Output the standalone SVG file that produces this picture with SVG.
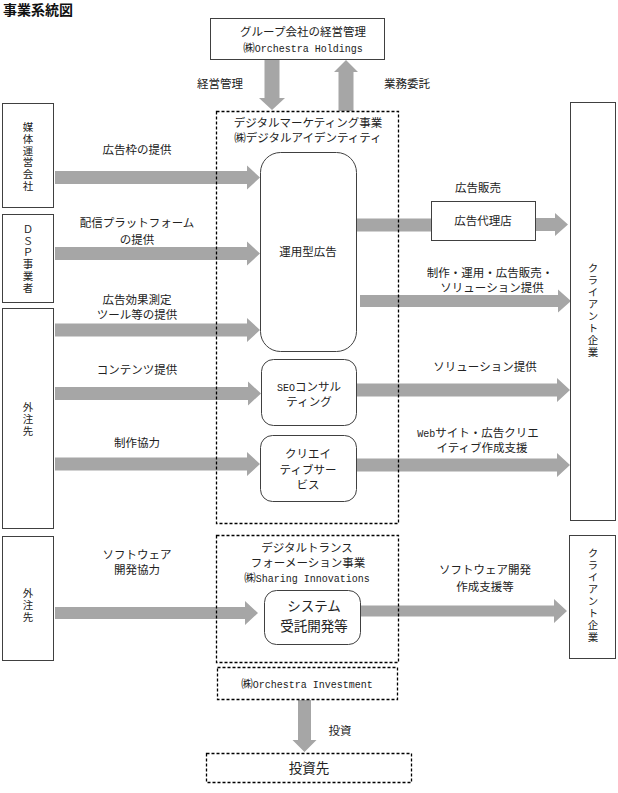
<svg xmlns="http://www.w3.org/2000/svg" width="618" height="793" viewBox="0 0 618 793">
<style>
.box{fill:#fff;stroke:#404040;stroke-width:1}
.dash{fill:none;stroke:#000;stroke-width:1.3;stroke-dasharray:3 2}
.arr{fill:#a6a6a6}
.t{font-family:"Noto Sans CJK JP","Noto Sans CJK SC",sans-serif;font-size:11.5px;fill:#222;text-anchor:middle}
.lat{font-family:"Liberation Mono",monospace;font-size:10px}
.vt{font-family:"Noto Sans CJK JP","Noto Sans CJK SC",sans-serif;font-size:10.5px;fill:#222;text-anchor:middle;writing-mode:vertical-rl;letter-spacing:1.2px}
.big{font-size:13.5px}
</style>
<rect width="618" height="793" fill="#fff"/>
<text x="3" y="15" style="font-family:'Noto Sans CJK JP',sans-serif;font-size:14px;font-weight:bold;fill:#111">事業系統図</text>

<g id="connectors">
  <polygon class="arr" points="264.5,59.5 279.5,59.5 279.5,98 285,98 272,110 259,98 264.5,98"/>
  <polygon class="arr" points="338.5,111 353.5,111 353.5,72 358,72 346,60 334,72 338.5,72"/>
  <polygon class="arr" points="55,171 247,171 247,165.5 260,177.5 247,189.5 247,184 55,184"/>
  <polygon class="arr" points="55,247 247,247 247,241.5 260,253.5 247,265.5 247,260 55,260"/>
  <polygon class="arr" points="55,323.5 247,323.5 247,318 260,330 247,342 247,336.5 55,336.5"/>
  <polygon class="arr" points="55,387 248,387 248,381.5 261,393.5 248,405.5 248,400 55,400"/>
  <polygon class="arr" points="55,457.5 247,457.5 247,452 260,464 247,476 247,470.5 55,470.5"/>
  <polygon class="arr" points="55,607 245,607 245,601 258,613 245,625 245,619 55,619"/>
  <rect class="arr" x="357" y="218.5" width="74" height="13"/>
  <polygon class="arr" points="536,218 555,218 555,213 568,224.5 555,236 555,231 536,231"/>
  <polygon class="arr" points="360,295 558,295 558,289.5 571,301 558,312.5 558,307 360,307"/>
  <polygon class="arr" points="357,383.5 557,383.5 557,378 570,390 557,402 557,396.5 357,396.5"/>
  <polygon class="arr" points="357,458.5 557,458.5 557,453 570,465 557,477 557,471.5 357,471.5"/>
  <polygon class="arr" points="361,605.5 554,605.5 554,599 567,611 554,623 554,616.5 361,616.5"/>
  <polygon class="arr" points="298,700 311,700 311,740 316.5,740 304.5,752 292.5,740 298,740"/>
  <text class="t" x="220" y="88">経営管理</text>
  <text class="t" x="407" y="88">業務委託</text>
  <text class="t" x="137" y="154">広告枠の提供</text>
  <text class="t" x="137" y="227">配信プラットフォーム</text>
  <text class="t" x="137" y="244">の提供</text>
  <text class="t" x="137" y="304">広告効果測定</text>
  <text class="t" x="137" y="319">ツール等の提供</text>
  <text class="t" x="137" y="374">コンテンツ提供</text>
  <text class="t" x="137" y="447">制作協力</text>
  <text class="t" x="137" y="559">ソフトウェア</text>
  <text class="t" x="137" y="574">開発協力</text>
  <text class="t" x="478" y="192">広告販売</text>
  <text class="t" x="490" y="277">制作・運用・広告販売・</text>
  <text class="t" x="492" y="292">ソリューション提供</text>
  <text class="t" x="485" y="371">ソリューション提供</text>
  <text class="t" x="478" y="437"><tspan class="lat">Web</tspan>サイト・広告クリエ</text>
  <text class="t" x="482" y="452">イティブ作成支援</text>
  <text class="t" x="485" y="574">ソフトウェア開発</text>
  <text class="t" x="485" y="591">作成支援等</text>
  <text class="t" x="340" y="735">投資</text>
</g>

<g id="holdings">
  <rect class="box" x="210.5" y="18.5" width="174" height="41"/>
  <text class="t" x="303" y="36">グループ会社の経営管理</text>
  <text class="t" x="303" y="52">㈱<tspan class="lat">Orchestra Holdings</tspan></text>
</g>

<g id="digital-marketing">
  <rect class="dash" x="216.5" y="111.5" width="182" height="412"/>
  <text class="t" x="308" y="127">デジタルマーケティング事業</text>
  <text class="t" x="308" y="142">㈱デジタルアイデンティティ</text>
</g>

<g id="unyo">
  <rect class="box" x="260.5" y="152.5" width="96" height="199" rx="20"/>
  <text class="t" x="308" y="256">運用型広告</text>
</g>

<g id="seo">
  <rect class="box" x="261.5" y="359.5" width="95" height="66" rx="12"/>
  <text class="t" x="309" y="391"><tspan class="lat">SEO</tspan>コンサル</text>
  <text class="t" x="309" y="406">ティング</text>
</g>

<g id="creative">
  <rect class="box" x="260.5" y="435.5" width="96" height="66" rx="12"/>
  <text class="t" x="308" y="458">クリエイ</text>
  <text class="t" x="308" y="474">ティブサー</text>
  <text class="t" x="308" y="489">ビス</text>
</g>

<g id="agency">
  <rect class="box" x="431.5" y="201.5" width="104" height="39"/>
  <text class="t" x="483" y="225">広告代理店</text>
</g>

<g id="media">
  <rect class="box" x="2.5" y="103.5" width="51" height="104"/>
  <text class="vt" x="28" y="157">媒体運営会社</text>
</g>

<g id="dsp">
  <rect class="box" x="2.5" y="214.5" width="51" height="88"/>
  <text class="vt" x="28" y="259">ＤＳＰ事業者</text>
</g>

<g id="outsource1">
  <rect class="box" x="2.5" y="308.5" width="51" height="220"/>
  <text class="vt" x="28" y="419.5">外注先</text>
</g>

<g id="outsource2">
  <rect class="box" x="2.5" y="536.5" width="51" height="124"/>
  <text class="vt" x="28" y="605.5">外注先</text>
</g>

<g id="client1">
  <rect class="box" x="570.5" y="102.5" width="45" height="418"/>
  <text class="vt" x="593" y="311" style="letter-spacing:1.5px">クライアント企業</text>
</g>

<g id="dx">
  <rect class="dash" x="216.5" y="535.5" width="182" height="127"/>
  <text class="t" x="307" y="552">デジタルトランス</text>
  <text class="t" x="308" y="567">フォーメーション事業</text>
  <text class="t" x="307" y="582">㈱<tspan class="lat">Sharing Innovations</tspan></text>
</g>

<g id="system">
  <rect class="box" x="264.5" y="590.5" width="96" height="54" rx="12"/>
  <text class="t big" x="314" y="611">システム</text>
  <text class="t big" x="314" y="631">受託開発等</text>
</g>

<g id="client2">
  <rect class="box" x="569.5" y="535.5" width="46" height="123"/>
  <text class="vt" x="593" y="596" style="letter-spacing:1.5px">クライアント企業</text>
</g>

<g id="investment">
  <rect class="dash" x="217.5" y="667.5" width="180" height="32"/>
  <text class="t" x="307" y="688">㈱<tspan class="lat">Orchestra Investment</tspan></text>
</g>

<g id="investee">
  <rect class="dash" x="206.5" y="753.5" width="205" height="29"/>
  <text class="t big" x="309" y="773">投資先</text>
</g>
</svg>
